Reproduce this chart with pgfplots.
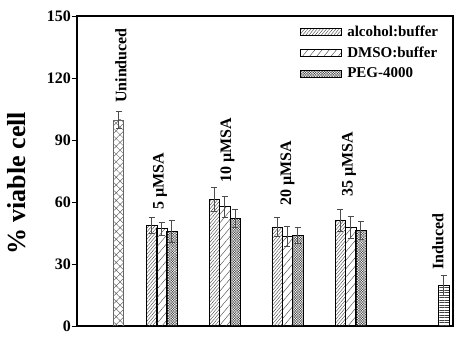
\documentclass[border=0pt]{standalone}
\usepackage{fontspec}
\setmainfont{Liberation Serif}
\usepackage{pgfplots}
\pgfplotsset{compat=1.18}
\usetikzlibrary{patterns.meta}

\begin{document}
\begin{tikzpicture}
\useasboundingbox (0,0) rectangle (471bp,340bp);
\begin{axis}[
  at={(77bp,14bp)}, anchor=south west, scale only axis,
  width=376bp, height=310bp,
  xmin=0, xmax=376, ymin=0, ymax=150,
  xtick=\empty, ytick={0,30,...,150}, ytick pos=left,
  tick align=outside, major tick length=5bp,
  axis line style={line width=1.3pt},
  every tick/.style={black, line width=1pt},
  /pgf/number format/assume math mode=true,
  yticklabel style={font=\fontsize{16bp}{16bp}\selectfont\bfseries, inner sep=1bp},
  ylabel={\% viable cell},
  ylabel style={font=\fontsize{26bp}{26bp}\selectfont\bfseries, at={(axis description cs:-0.16,0.46)}, anchor=center},
  legend style={at={(0.593,0.974)}, anchor=north west, draw=none, fill=none,
    font=\fontsize{15bp}{15bp}\selectfont\bfseries, row sep=6bp, inner sep=0pt,
    nodes={inner sep=1.5bp},
    /tikz/every odd column/.append style={column sep=4bp}},
  legend cell align=left,
  ybar, bar width=10.3, bar shift=0pt,
  error bars/y dir=both, error bars/y explicit,
  error bars/error bar style={black!70, line width=0.5pt},
  error bars/error mark options={rotate=90, mark size=3bp, black!70, line width=0.5pt},
  legend image code/.code={\draw[#1] (0bp,-3.6bp) rectangle (41bp,3.6bp);},
]
% Uninduced
\addplot[forget plot, draw=black!60, fill=none, pattern={Hatch[angle=45,distance=5.5pt,line width=0.4pt]}, pattern color=black!60]
  coordinates {(41.5,99.7) +- (0,4)};
% alcohol:buffer
\addplot[draw=black, line width=0.6pt, pattern={Lines[angle=50,distance=2.4pt,line width=0.4pt]}, pattern color=black!75]
  coordinates {(74.7,48.7) +- (0,3.9) (137.3,61.3) +- (0,5.8) (200,48.0) +- (0,4.6) (263.3,51.3) +- (0,5.4)};
% DMSO:buffer
\addplot[draw=black, line width=0.6pt, pattern={Lines[angle=50,distance=5.5pt,line width=0.4pt]}, pattern color=black!75]
  coordinates {(84.7,47.1) +- (0,3.2) (147.7,57.7) +- (0,4.9) (210.3,43.5) +- (0,4.9) (273.7,47.7) +- (0,5.2)};
% PEG-4000
\addplot[draw=black, line width=0.6pt, pattern={Hatch[angle=45,distance=1.8pt,line width=0.35pt]}, pattern color=black!75]
  coordinates {(94.7,45.8) +- (0,5.5) (158,52.2) +- (0,4.5) (220.7,43.9) +- (0,4.1) (283.7,46.4) +- (0,4.5)};
% Induced
\addplot[forget plot, draw=black, line width=0.6pt, pattern={Lines[angle=0,distance=2.5pt,line width=0.4pt]}, pattern color=black!75]
  coordinates {(366.7,19.7) +- (0,4.8)};
\legend{alcohol:buffer, DMSO:buffer, PEG-4000}

\begin{scope}[every node/.style={rotate=90, anchor=west, inner sep=0pt, font=\fontsize{16bp}{16bp}\selectfont\bfseries}]
\node at (axis cs:44,107.9) {Uninduced};
\node at (axis cs:83,56.1) {5 µMSA};
\node at (axis cs:150.5,69.2) {10 µMSA};
\node at (axis cs:210.5,58) {20 µMSA};
\node at (axis cs:272,62.6) {35 µMSA};
\node at (axis cs:361,27.1) {Induced};
\end{scope}
\end{axis}
\end{tikzpicture}
\end{document}
